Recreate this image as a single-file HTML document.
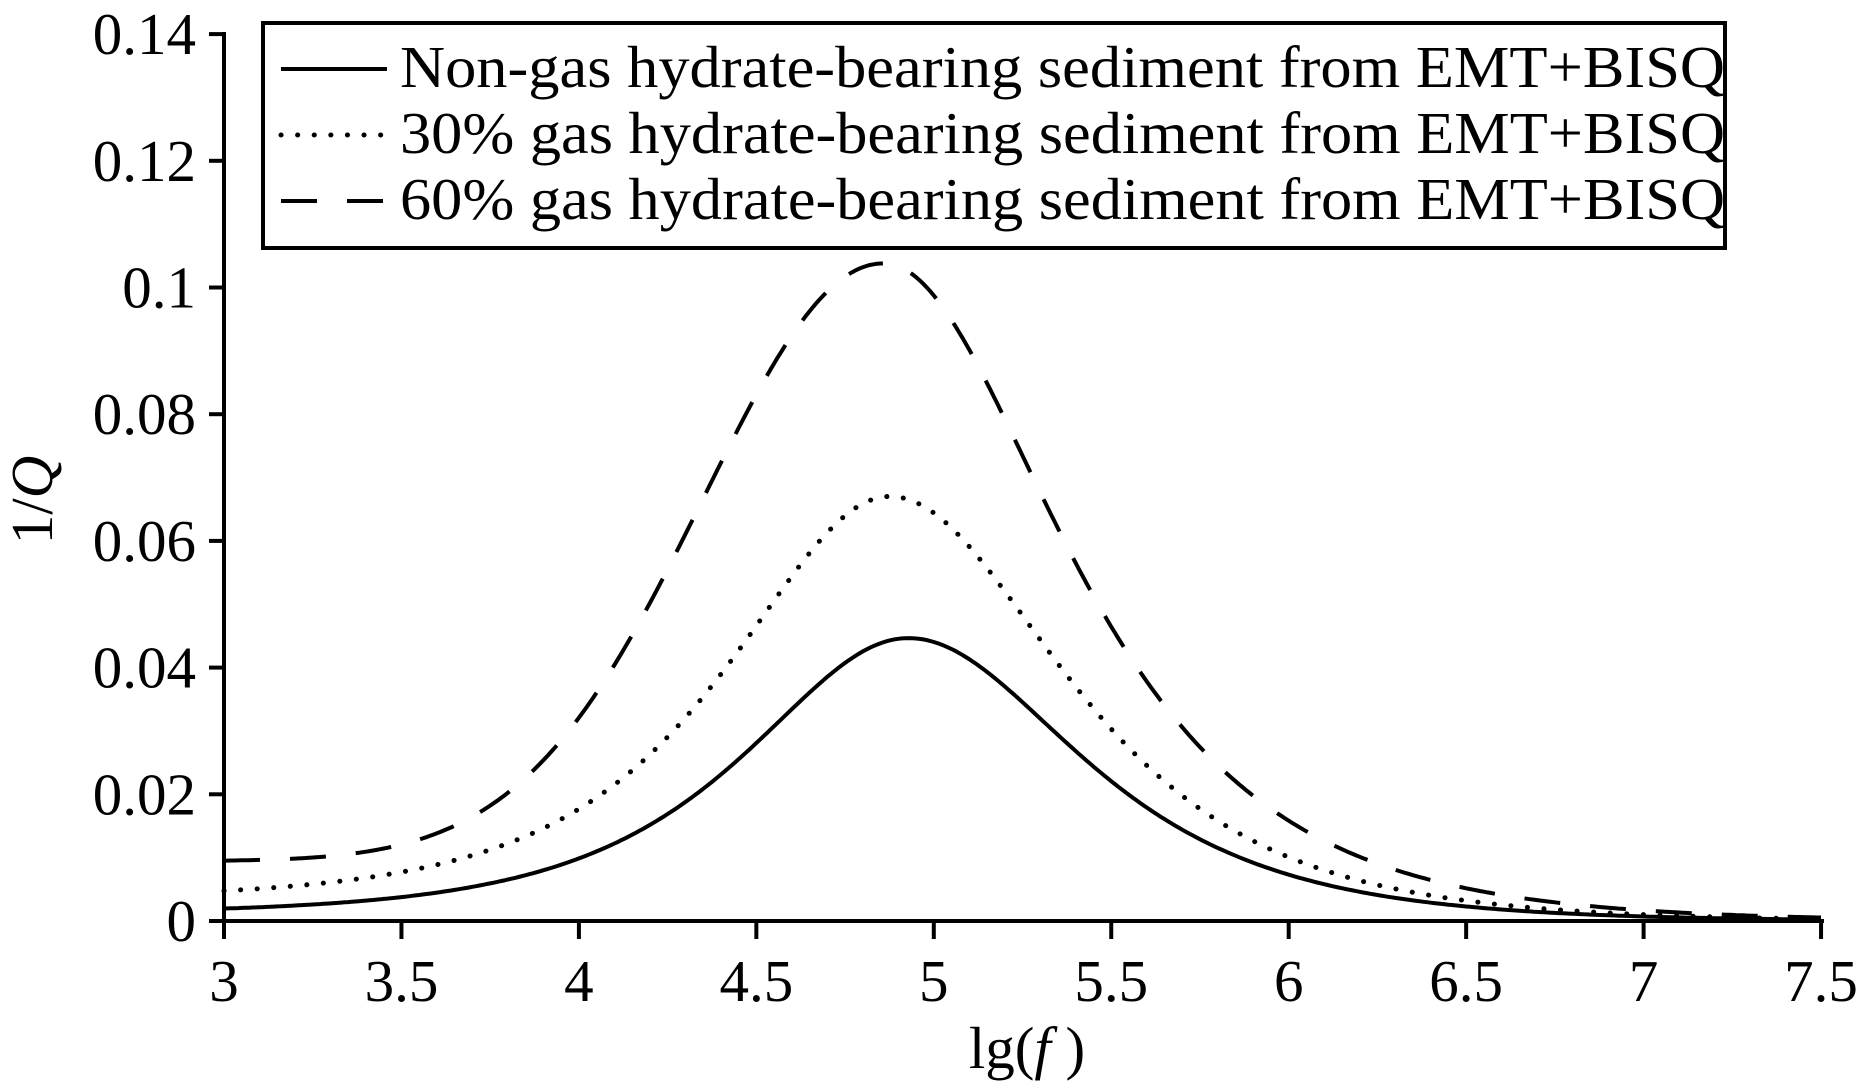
<!DOCTYPE html>
<html><head><meta charset="utf-8"><style>
html,body{margin:0;padding:0;background:#fff;}
svg{display:block;}
text{font-family:"Liberation Serif",serif;fill:#000;}
</style></head><body>
<svg id="s" width="1869" height="1089" viewBox="0 0 1869 1089" xmlns="http://www.w3.org/2000/svg">
<g stroke="#000" stroke-width="4" fill="none">
<line x1="224" y1="32" x2="224" y2="923"/>
<line x1="209" y1="921" x2="1824" y2="921"/>
</g>
<g id="ticks" stroke="#000" stroke-width="4"></g>
<g id="labels" font-size="59"></g>
<g id="curves" fill="none" stroke="#000"></g>
<rect x="263" y="23" width="1462" height="225" fill="#fff" stroke="#000" stroke-width="4"/>
<g stroke="#000" stroke-width="4">
<line x1="281" y1="69" x2="387" y2="69"/>
<line x1="281" y1="135" x2="387" y2="135" stroke-dasharray="0.1 16.5" stroke-linecap="round" stroke-width="5"/>
<line x1="281" y1="201" x2="387" y2="201" stroke-dasharray="36 30"/>
</g>
<g font-size="59">
<text x="400" y="87" textLength="1325" lengthAdjust="spacingAndGlyphs">Non-gas hydrate-bearing sediment from EMT+BISQ</text>
<text x="400" y="153" textLength="1325" lengthAdjust="spacingAndGlyphs">30% gas hydrate-bearing sediment from EMT+BISQ</text>
<text x="400" y="219" textLength="1325" lengthAdjust="spacingAndGlyphs">60% gas hydrate-bearing sediment from EMT+BISQ</text>
</g>
<text x="1027" y="1068" font-size="59" text-anchor="middle">lg(<tspan font-style="italic">f</tspan> )</text>
<text transform="translate(52,500) rotate(-90)" font-size="59" text-anchor="middle">1/<tspan font-style="italic">Q</tspan></text>
</svg>
<script>
var NS="http://www.w3.org/2000/svg";
function X(v){return 224+(v-3)*354.9;}
function Y(v){return 921-v/0.02*126.7;}
var t=document.getElementById('ticks'),l=document.getElementById('labels');
function el(p,tag,a,txt){var e=document.createElementNS(NS,tag);for(var k in a)e.setAttribute(k,a[k]);if(txt!=null)e.textContent=txt;p.appendChild(e);}
var yl=['0','0.02','0.04','0.06','0.08','0.1','0.12','0.14'];
for(var i=0;i<8;i++){var y=Y(i*0.02);el(t,'line',{x1:209,y1:y,x2:224,y2:y});el(l,'text',{x:196,y:y+20,'text-anchor':'end'},yl[i]);}
var xl=['3','3.5','4','4.5','5','5.5','6','6.5','7','7.5'];
for(var i=0;i<10;i++){var x=X(3+i*0.5);el(t,'line',{x1:x,y1:921,x2:x,y2:939});el(l,'text',{x:x,y:1001,'text-anchor':'middle'},xl[i]);}
function curve(A,x0,kl,kr,b0,gauss){var d='';for(var v=3;v<=7.5001;v+=0.01){var dx=v-x0;var p;
 if(dx<0&&gauss){p=A*Math.exp(-gauss*dx*dx);} else {var k=dx<0?kl:kr;p=A/Math.cosh(k*dx);}
 var b=gauss? b0/(1+Math.exp(4*(v-4.0))) : b0/(1+Math.exp(3*(v-4.3)));
 var y=p+b;d+=(d?'L':'M')+X(v).toFixed(1)+','+Y(y).toFixed(1);}return d;}
var c=document.getElementById('curves');
el(c,'path',{d:curve(0.0445,4.93,2.45,2.33,0.0012),'stroke-width':4});
el(c,'path',{d:curve(0.0665,4.88,2.45,2.3,0.0035),'stroke-width':5,'stroke-dasharray':'0.1 16.5','stroke-linecap':'round'});
el(c,'path',{d:curve(0.1035,4.86,2.45,2.25,0.0095,1.8),'stroke-width':4,'stroke-dasharray':'36 30'});
</script>
</body></html>
